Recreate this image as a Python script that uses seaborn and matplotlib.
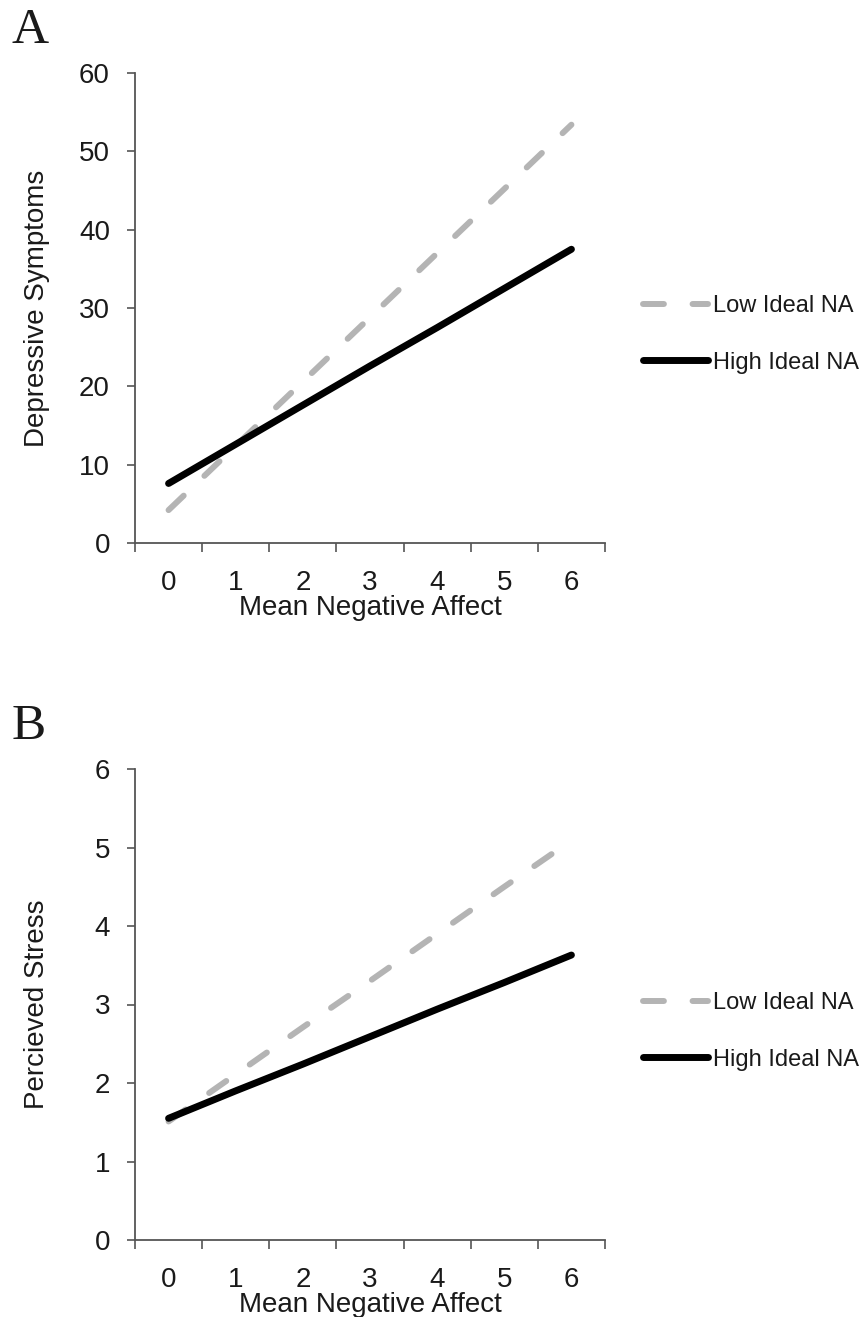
import matplotlib
matplotlib.use("Agg")
import matplotlib.pyplot as plt
import seaborn as sns
import pandas as pd
import numpy as np

sns.set_theme(style="white")
plt.rcParams['font.family'] = ['Liberation Sans', 'DejaVu Sans']

categories = [0, 1, 2, 3, 4, 5, 6]
tick_labels = ["0", "1", "2", "3", "4", "5", "6"]

# Panel A: Depressive Symptoms
dep_low = [4.2, 12.4, 20.6, 28.8, 37.0, 45.2, 53.4]
dep_high = [7.6, 12.6, 17.6, 22.6, 27.5, 32.5, 37.5]

# Panel B: Perceived Stress
stress_low = [1.51, 2.11, 2.71, 3.30, 3.90, 4.50, 5.09]
stress_high = [1.55, 1.90, 2.24, 2.59, 2.94, 3.28, 3.63]

series_names = ["Low Ideal NA", "High Ideal NA"]

fig = plt.figure(figsize=(8.65, 13.17), dpi=100)
W, H = 865, 1317

def make_axes(left, right, top, bottom):
    return fig.add_axes([left / W, 1 - bottom / H, (right - left) / W, (bottom - top) / H])

axA = make_axes(135, 605, 73, 543)
axB = make_axes(135, 605, 769, 1240)

gray = "#b4b4b4"
axis_col = "#555555"
text_col = "#1a1a1a"

def draw(ax, low, high, ylim, yticks, ylabel, legend_y):
    df_low = pd.DataFrame({"x": categories, "y": low})
    df_high = pd.DataFrame({"x": categories, "y": high})
    sns.lineplot(data=df_low, x="x", y="y", ax=ax, color=gray, linewidth=4.3,
                 linestyle=(0, (3.5, 4.8)), dash_capstyle="round",
                 label=series_names[0])
    sns.lineplot(data=df_high, x="x", y="y", ax=ax, color="black", linewidth=5.0,
                 solid_capstyle="round", label=series_names[1])
    ax.set_xlim(-0.5, 6.5)
    ax.set_ylim(*ylim)
    ax.set_yticks(yticks)
    ax.set_yticklabels([str(t) for t in yticks])
    # category boundaries as major ticks, labels at category centres
    ax.set_xticks(np.arange(-0.5, 7.0, 1.0))
    ax.set_xticklabels([])
    ax.set_xticks(categories, minor=True)
    ax.set_xticklabels(tick_labels, minor=True)
    ax.tick_params(axis="x", which="major", direction="out", length=6.5, width=1.2,
                   color=axis_col, bottom=True)
    ax.tick_params(axis="x", which="minor", length=0, pad=19.5, labelsize=20,
                   labelcolor=text_col, bottom=True)
    ax.tick_params(axis="y", direction="out", length=6, width=1.2, color=axis_col,
                   left=True, labelsize=20, pad=12, labelcolor=text_col)
    for s in ["top", "right"]:
        ax.spines[s].set_visible(False)
    for s in ["left", "bottom"]:
        ax.spines[s].set_color(axis_col)
        ax.spines[s].set_linewidth(1.3)
    ax.set_xlabel("Mean Negative Affect", fontsize=20, color=text_col, labelpad=-1)
    ax.set_ylabel(ylabel, fontsize=20, color=text_col)
    ax.yaxis.set_label_coords(-0.181, 0.5)
    leg = ax.legend(loc="center left", bbox_to_anchor=(1.081, legend_y), frameon=False,
                    fontsize=17, handlelength=2.75, handletextpad=0.21, labelspacing=1.45,
                    borderpad=0, borderaxespad=0)
    for t in leg.get_texts():
        t.set_color(text_col)

draw(axA, dep_low, dep_high, (0, 60), [0, 10, 20, 30, 40, 50, 60],
     "Depressive Symptoms", 0.4436)
draw(axB, stress_low, stress_high, (0, 6), [0, 1, 2, 3, 4, 5, 6],
     "Percieved Stress", 0.4427)

fig.text(12 / W, 1 - 43 / H, "A", fontsize=37, family="Liberation Serif", color=text_col)
fig.text(12 / W, 1 - 739 / H, "B", fontsize=37, family="Liberation Serif", color=text_col)

fig.savefig("out.png", dpi=100)
